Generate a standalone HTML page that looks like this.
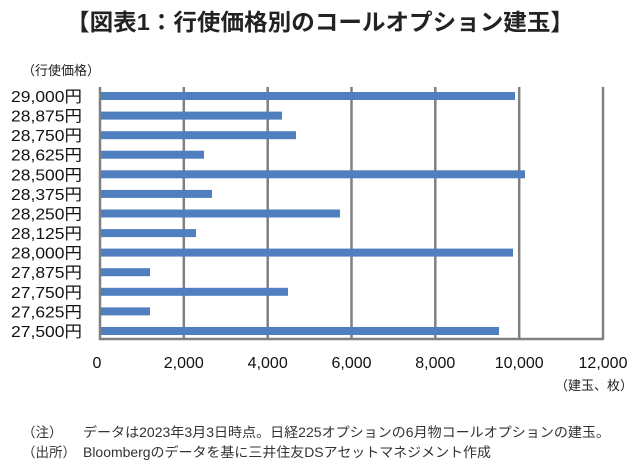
<!DOCTYPE html>
<html><head><meta charset="utf-8"><style>
body{margin:0;background:#fff;width:640px;height:470px;overflow:hidden;font-family:"Liberation Sans","Noto Sans CJK JP",sans-serif;}
</style></head><body>
<svg width="640" height="470" xmlns="http://www.w3.org/2000/svg" font-family="Liberation Sans, Noto Sans CJK JP, sans-serif">
<text x="320" y="30" text-anchor="middle" font-size="23" font-weight="bold" fill="#222" textLength="508" lengthAdjust="spacingAndGlyphs">【図表1：行使価格別のコールオプション建玉】</text>
<text x="22" y="75" font-size="13" fill="#222">（行使価格）</text>
<g stroke="#808080" stroke-width="2.5">
<line x1="183.8" y1="87" x2="183.8" y2="339"/>
<line x1="267.7" y1="87" x2="267.7" y2="339"/>
<line x1="351.5" y1="87" x2="351.5" y2="339"/>
<line x1="435.3" y1="87" x2="435.3" y2="339"/>
<line x1="519.2" y1="87" x2="519.2" y2="339"/>
<line x1="603" y1="87" x2="603" y2="339"/>
<line x1="100" y1="87" x2="100" y2="340"/>
<line x1="99" y1="339" x2="604" y2="339"/>
</g>
<g fill="#4f7fbf">
<rect x="101" y="92" width="414" height="8"/>
<rect x="101" y="111.6" width="181" height="8"/>
<rect x="101" y="131.2" width="195" height="8"/>
<rect x="101" y="150.7" width="103" height="8"/>
<rect x="101" y="170.3" width="424" height="8"/>
<rect x="101" y="189.9" width="111" height="8"/>
<rect x="101" y="209.5" width="239" height="8"/>
<rect x="101" y="229.1" width="95" height="8"/>
<rect x="101" y="248.6" width="412" height="8"/>
<rect x="101" y="268.2" width="49" height="8"/>
<rect x="101" y="287.8" width="187" height="8"/>
<rect x="101" y="307.4" width="49" height="8"/>
<rect x="101" y="327" width="398" height="8"/>
</g>
<g font-size="16" fill="#111" text-anchor="end">
<text x="82" y="102" textLength="71" lengthAdjust="spacingAndGlyphs">29,000円</text>
<text x="82" y="121.6" textLength="71" lengthAdjust="spacingAndGlyphs">28,875円</text>
<text x="82" y="141.2" textLength="71" lengthAdjust="spacingAndGlyphs">28,750円</text>
<text x="82" y="160.7" textLength="71" lengthAdjust="spacingAndGlyphs">28,625円</text>
<text x="82" y="180.3" textLength="71" lengthAdjust="spacingAndGlyphs">28,500円</text>
<text x="82" y="199.9" textLength="71" lengthAdjust="spacingAndGlyphs">28,375円</text>
<text x="82" y="219.5" textLength="71" lengthAdjust="spacingAndGlyphs">28,250円</text>
<text x="82" y="239.1" textLength="71" lengthAdjust="spacingAndGlyphs">28,125円</text>
<text x="82" y="258.6" textLength="71" lengthAdjust="spacingAndGlyphs">28,000円</text>
<text x="82" y="278.2" textLength="71" lengthAdjust="spacingAndGlyphs">27,875円</text>
<text x="82" y="297.8" textLength="71" lengthAdjust="spacingAndGlyphs">27,750円</text>
<text x="82" y="317.4" textLength="71" lengthAdjust="spacingAndGlyphs">27,625円</text>
<text x="82" y="337" textLength="71" lengthAdjust="spacingAndGlyphs">27,500円</text>
</g>
<g font-size="16" fill="#111" text-anchor="middle">
<text x="97" y="368">0</text>
<text x="183.8" y="368">2,000</text>
<text x="267.7" y="368">4,000</text>
<text x="351.5" y="368">6,000</text>
<text x="435.3" y="368">8,000</text>
<text x="519.2" y="368">10,000</text>
<text x="603" y="368">12,000</text>
</g>
<text x="633" y="390" font-size="13" fill="#222" text-anchor="end">（建玉、枚）</text>
<text x="22" y="437" font-size="13.5" fill="#333">（注）</text>
<text x="83" y="437" font-size="13.5" fill="#333" textLength="527" lengthAdjust="spacingAndGlyphs">データは2023年3月3日時点。日経225オプションの6月物コールオプションの建玉。</text>
<text x="22" y="457" font-size="13.5" fill="#333">（出所）</text>
<text x="83" y="457" font-size="13.5" fill="#333" textLength="408" lengthAdjust="spacingAndGlyphs">Bloombergのデータを基に三井住友DSアセットマネジメント作成</text>
</svg>
</body></html>
